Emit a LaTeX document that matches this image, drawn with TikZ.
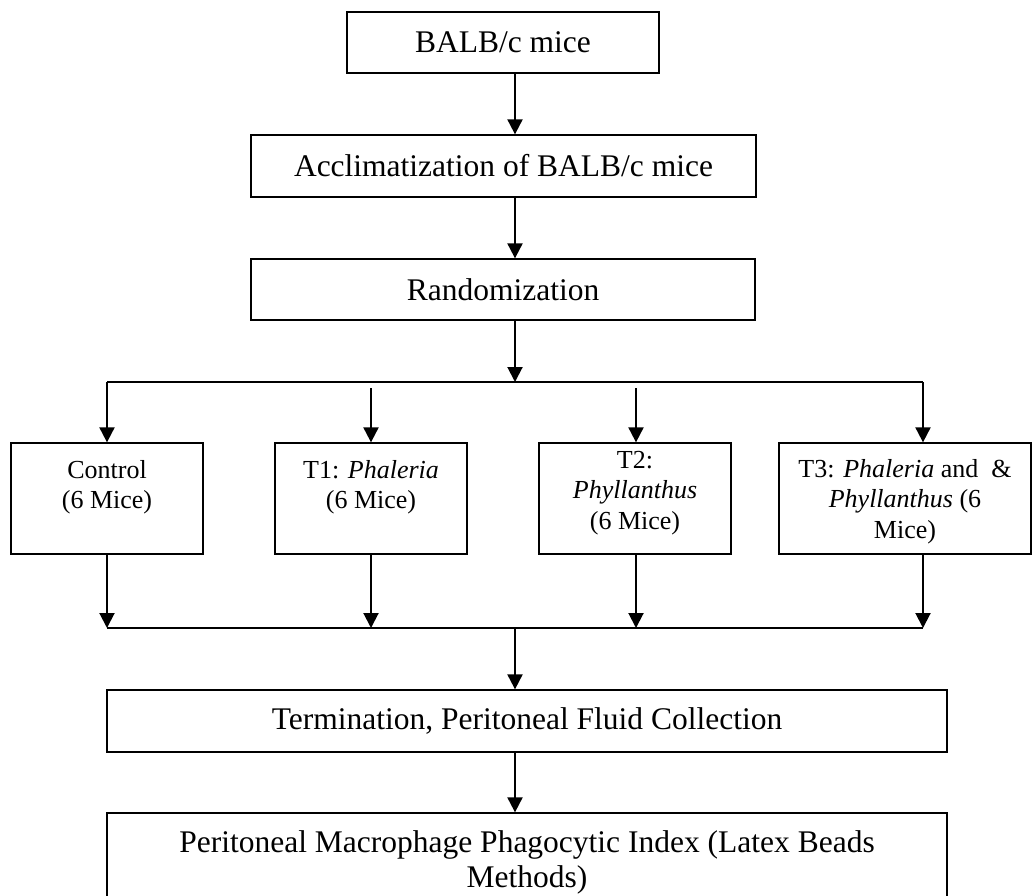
\documentclass[tikz,border=0pt]{standalone}
\usepackage{fontspec}
\setmainfont{Liberation Serif}
\usetikzlibrary{arrows.meta}
\newcommand\grpbox[3]{\parbox[c][111pt][t]{#1}{\centering\fontsize{26}{30.5}\selectfont\rule{0pt}{#2}#3}}
\tikzset{
  bigbox/.style={draw, line width=1.3pt, rectangle, inner sep=0pt, align=center,
    font=\fontsize{31.5}{35}\selectfont},
  grpnode/.style={draw, line width=1.3pt, rectangle, inner sep=0pt},
  arr/.style={line width=2pt, -{Triangle[width=15pt,length=15pt]}},
  hline/.style={line width=1.3pt}
}
\begin{document}
\begin{tikzpicture}[x=1pt,y=-1pt]
\useasboundingbox (0,0) rectangle (1033,895);
\fill[white] (0,0) rectangle (1033,895);
\clip (0,0) rectangle (1033,895);

% main column boxes
\node[bigbox, minimum width=312pt, minimum height=61pt] (balb) at (503,42.5) {BALB/c mice};
\node[bigbox, minimum width=505pt, minimum height=62pt] (acc) at (503.5,166) {Acclimatization of BALB/c mice};
\node[bigbox, minimum width=504pt, minimum height=61pt] (rnd) at (503,289.5) {Randomization};

% branch coordinates
\coordinate (bm) at (515,382);
\coordinate (b0) at (107,382);
\coordinate (b3) at (923,382);
\coordinate (t1s) at (371,388);
\coordinate (t2s) at (636,388);
\coordinate (c0) at (107,628);
\coordinate (c1) at (371,628);
\coordinate (c2) at (636,628);
\coordinate (c3) at (923,628);
\coordinate (cm) at (515,628);

% group boxes
\node[grpnode] (ctl) at (107,498.5) {\grpbox{192pt}{35pt}{Control\\(6 Mice)}};
\node[grpnode] (t1) at (371,498.5) {\grpbox{192pt}{35pt}{T1: \textit{Phaleria}\\(6 Mice)}};
\node[grpnode] (t2) at (635,498.5) {\grpbox{192pt}{25pt}{T2:\\\textit{Phyllanthus}\\(6 Mice)}};
\node[grpnode] (t3) at (905,498.5) {\grpbox{252pt}{34pt}{T3: \textit{Phaleria} and\ \ \&\\\textit{Phyllanthus} (6\\Mice)}};

% lower boxes
\node[bigbox, minimum width=840pt, minimum height=62pt] (term) at (527,721) {Termination, Peritoneal Fluid Collection};
\node[bigbox, minimum width=840pt, minimum height=98pt] (perit) at (527,862) {Peritoneal Macrophage Phagocytic Index (Latex Beads\\Methods)};

% connectors
\draw[arr] (balb.south -| bm) -- (acc.north -| bm);
\draw[arr] (acc.south -| bm) -- (rnd.north -| bm);
\draw[arr] (rnd.south -| bm) -- (bm);
\draw[hline] (b0) -- (b3);
\draw[arr] (b0) -- (ctl.north);
\draw[arr] (t1s) -- (t1.north -| t1s);
\draw[arr] (t2s) -- (t2.north -| t2s);
\draw[arr] (b3) -- (t3.north -| b3);

\draw[arr] (ctl.south) -- (c0);
\draw[arr] (t1.south -| c1) -- (c1);
\draw[arr] (t2.south -| c2) -- (c2);
\draw[arr] (t3.south -| c3) -- (c3);
\draw[hline] (c0) -- (c3);
\draw[arr] (cm) -- (term.north -| cm);
\draw[arr] (term.south -| cm) -- (perit.north -| cm);
\end{tikzpicture}
\end{document}
